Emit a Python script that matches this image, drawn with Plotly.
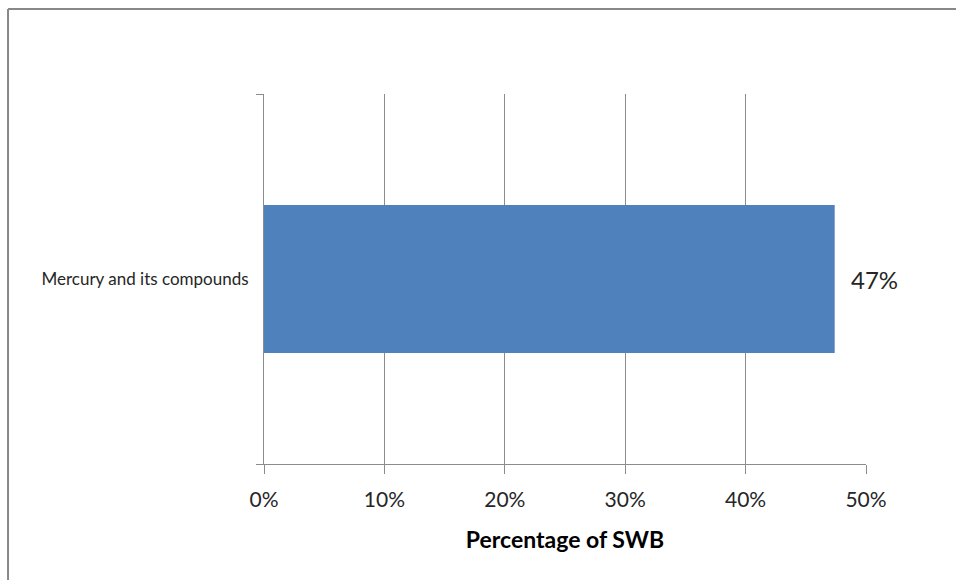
import plotly.graph_objects as go

# Share of SWB for each substance group
categories = ["Mercury and its compounds"]
shares = [0.474]

x_ticks = [0, 0.1, 0.2, 0.3, 0.4, 0.5]

FONT = "Lato"
GRID = "#8c8c8c"
TEXT = "#262626"

fig = go.Figure(
    go.Bar(
        y=categories,
        x=shares,
        orientation="h",
        marker=dict(color="#4f81bd", line=dict(width=0)),
        width=0.4,
        hoverinfo="skip",
    )
)

# data labels, positioned from the bar values
for cat, val in zip(categories, shares):
    fig.add_annotation(
        x=val, y=cat, xref="x", yref="y",
        text=f"{val:.0%}", showarrow=False,
        xanchor="left", xshift=14, yshift=0,
        font=dict(family=FONT, size=24, color=TEXT),
    )

# outer frame (left and top edges of the chart box)
frame = dict(color="#888888", width=2)
fig.add_shape(type="line", xref="paper", yref="paper",
              x0=-0.4252, x1=-0.4252, y0=-0.35, y1=1.2297, line=frame)
fig.add_shape(type="line", xref="paper", yref="paper",
              x0=-0.4252, x1=1.2, y0=1.2297, y1=1.2297, line=frame)

fig.update_layout(
    width=956, height=580,
    margin=dict(l=264, r=90, t=94, b=116),
    paper_bgcolor="white", plot_bgcolor="white",
    showlegend=False,
    font=dict(family=FONT, color=TEXT),
    xaxis=dict(
        range=[0, 0.5], tickvals=x_ticks, tickformat=".0%",
        showgrid=True, gridcolor=GRID, gridwidth=1,
        zeroline=False, showline=True, linecolor=GRID, linewidth=1,
        ticks="outside", ticklen=9, tickcolor=GRID, tickwidth=1,
        ticklabelstandoff=8,
        tickfont=dict(family=FONT, size=21, color=TEXT),
        title=dict(text="<b>Percentage of SWB</b>", standoff=21,
                   font=dict(family=FONT, size=23, color="#000000")),
    ),
    yaxis=dict(
        type="category", range=[-0.5, 0.5],
        showgrid=False, zeroline=False,
        showline=True, linecolor=GRID, linewidth=1,
        ticks="outside", tickson="boundaries", ticklen=7,
        tickcolor=GRID, tickwidth=1,
        ticklabelstandoff=11,
        tickfont=dict(family=FONT, size=17, color=TEXT),
    ),
)

fig.write_html("out.html")
